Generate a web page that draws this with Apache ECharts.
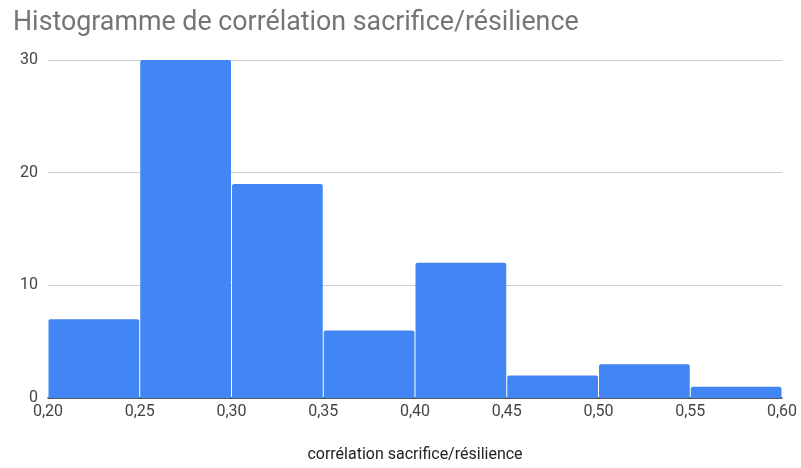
<!DOCTYPE html>
<html><head><meta charset="utf-8">
<script src="https://cdn.jsdelivr.net/npm/echarts@6/dist/echarts.min.js"></script>
<style>html,body{margin:0;padding:0;background:#fff}#c{width:801px;height:468px}</style>
</head><body><div id="c"></div>
<script>
const binStarts = [0.20, 0.25, 0.30, 0.35, 0.40, 0.45, 0.50, 0.55];
const binEnds   = [0.25, 0.30, 0.35, 0.40, 0.45, 0.50, 0.55, 0.60];
const counts    = [7, 30, 19, 6, 12, 2, 3, 1];
const titleText = 'Histogramme de corrélation sacrifice/résilience';
const xName = 'corrélation sacrifice/résilience';

const F = 'Roboto, Liberation Sans, Arial';
const data = binStarts.map((s, i) => [s, binEnds[i], counts[i]]);
const chart = echarts.init(document.getElementById('c'));
chart.setOption({
  animation: false,
  title: { text: titleText, left: 8, top: 5,
    textStyle: { fontFamily: F, fontSize: 26.8, fontWeight: 'normal', color: '#757575' } },
  grid: { left: 48, right: 19, top: 60, bottom: 70 },
  xAxis: {
    type: 'value', min: 0.2, max: 0.6, interval: 0.05,
    name: xName, nameLocation: 'middle', nameGap: 49,
    nameTextStyle: { fontFamily: F, fontSize: 16, color: '#222' },
    axisLine: { show: true, lineStyle: { color: '#333', width: 1.5 } },
    axisTick: { show: false },
    splitLine: { show: false },
    axisLabel: { margin: 6, fontFamily: F, fontSize: 16, color: '#444',
      formatter: v => v.toFixed(2).replace('.', ','),
      showMinLabel: true, showMaxLabel: true }
  },
  yAxis: {
    type: 'value', min: 0, max: 30, interval: 10,
    axisLine: { show: false }, axisTick: { show: false },
    splitLine: { lineStyle: { color: '#cccccc', width: 1 } },
    axisLabel: { margin: 10, fontFamily: F, fontSize: 16, color: '#444' }
  },
  series: [{
    type: 'custom',
    data: data,
    encode: { x: [0, 1], y: 2 },
    renderItem: function (params, api) {
      const p0 = api.coord([api.value(0), api.value(2)]);
      const p1 = api.coord([api.value(1), 0]);
      return {
        type: 'rect',
        shape: { x: p0[0] + 0.5, y: p0[1], width: p1[0] - p0[0] - 1, height: p1[1] - p0[1], r: [2, 2, 0, 0] },
        style: { fill: '#4285F4' },
        z2: 1
      };
    }
  }]
});
</script></body></html>
